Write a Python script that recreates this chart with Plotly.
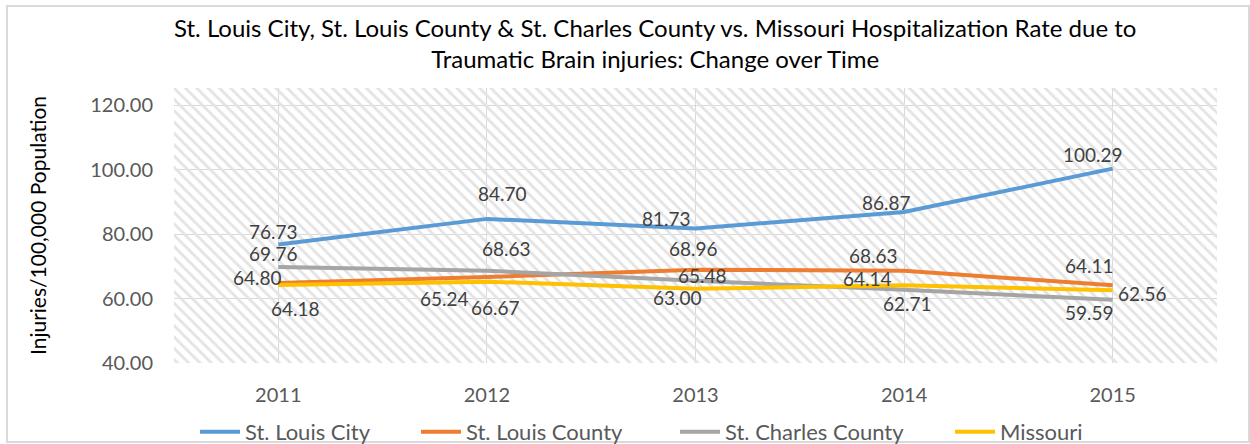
import plotly.graph_objects as go

# ---- data ----
years = ["2011", "2012", "2013", "2014", "2015"]
series_names = ["St. Louis City", "St. Louis County", "St. Charles County", "Missouri"]
stl_city = [76.73, 84.70, 81.73, 86.87, 100.29]
stl_county = [64.80, 66.67, 68.96, 68.63, 64.11]
stc_county = [69.76, 68.63, 65.48, 62.71, 59.59]
missouri = [64.18, 65.24, 63.00, 64.14, 62.56]
y_ticks = [40, 60, 80, 100, 120]

# ---- styles ----
colors = ["#5B9BD5", "#ED7D31", "#A5A5A5", "#FFC000"]
FONT = "Lato"
Y_MIN, Y_MAX = 40, 125.3
L, R, T, B = 174, 33, 88, 81
W, H = 1250, 444
PW, PH = W - L - R, H - T - B
# label pixel offsets (dx, dy up) per series per point
label_offsets = [
    [(-5, 13), (16, 25), (-29, 10), (-18, 9), (-20, 14)],
    [(-21, 6), (9, -30), (-2, 21), (-31, 15), (-23, 20)],
    [(-5, 14), (20, 22), (7, 5), (3, -14), (-23, -13)],
    [(17, -23), (-42, -17), (-18, -9), (-37, 7), (30, -3)],
]
# legend entry left positions (px in the 1250-wide canvas)
legend_left_px = [195, 416, 675, 950]

all_series = [stl_city, stl_county, stc_county, missouri]

fig = go.Figure()

# hatched plot-area background
fig.add_trace(go.Bar(
    x=years, y=[Y_MAX - Y_MIN] * len(years), base=Y_MIN, width=1,
    marker=dict(color="rgba(0,0,0,0)", line=dict(width=0),
                pattern=dict(shape="\\", fgcolor="#e3e3e3", size=8, solidity=0.35, fillmode="replace")),
    showlegend=False, hoverinfo="skip",
))

legend_ids = ["legend", "legend2", "legend3", "legend4"]
for name, vals, col, lid in zip(series_names, all_series, colors, legend_ids):
    fig.add_trace(go.Scatter(
        x=years, y=vals, name=name, mode="lines",
        line=dict(color=col, width=4), legend=lid,
    ))

annotations = []
for vals, offs in zip(all_series, label_offsets):
    for i, (v, (dx, dy)) in enumerate(zip(vals, offs)):
        annotations.append(dict(
            x=i, y=v, xref="x", yref="y", text=f"{v:.2f}", showarrow=False,
            xshift=dx, yshift=dy, font=dict(family=FONT, size=19, color="#404040"),
        ))

# title as annotation (two lines)
TITLE_TOP_PX = 11
annotations.append(dict(
    text="St. Louis City, St. Louis County & St. Charles County vs. Missouri Hospitalization Rate due to<br>Traumatic Brain injuries: Change over Time",
    xref="paper", yref="paper", x=(655 - L) / PW, y=(H - B - TITLE_TOP_PX) / PH,
    xanchor="center", yanchor="top", showarrow=False,
    font=dict(family=FONT, size=24, color="#000000"),
))

legend_common = dict(
    orientation="h", xanchor="left", xref="container",
    y=1 - 432 / H, yanchor="middle", yref="container",
    font=dict(family=FONT, size=22, color="#595959"),
    itemwidth=40, bgcolor="rgba(0,0,0,0)",
)
legends = {lid: dict(legend_common, x=px / W) for lid, px in zip(legend_ids, legend_left_px)}

fig.update_layout(
    width=W, height=H,
    margin=dict(l=L, r=R, t=T, b=B, autoexpand=False),
    paper_bgcolor="white", plot_bgcolor="white",
    bargap=0,
    font=dict(family=FONT),
    xaxis=dict(
        type="category", range=[-0.5, 4.5], showgrid=True, gridcolor="#d9d9d9", gridwidth=1,
        tickfont=dict(family=FONT, size=20, color="#595959"),
        ticklabelstandoff=18, showline=False, zeroline=False, automargin=False,
    ),
    yaxis=dict(
        range=[Y_MIN, Y_MAX], tickvals=y_ticks, ticktext=[f"{t:.2f}" for t in y_ticks],
        showgrid=True, gridcolor="#d9d9d9", gridwidth=1, zeroline=False, automargin=False,
        tickfont=dict(family=FONT, size=20, color="#595959"),
        ticklabelstandoff=20,
        title=dict(text="Injuries/100,000 Population", font=dict(family=FONT, size=21, color="#000000"), standoff=37),
    ),
    annotations=annotations,
    shapes=[dict(type="rect", xref="paper", yref="paper",
                 x0=(7 - L) / PW, x1=(1249 - L) / PW,
                 y0=(H - B - 442) / PH, y1=(H - B - 6) / PH,
                 line=dict(color="#d9d9d9", width=2), fillcolor="rgba(0,0,0,0)", layer="below")],
    **legends,
)

fig.write_html(
    "out.html",
    config={"displayModeBar": False},
    post_script="document.body.style.margin='0';document.body.style.overflow='hidden';",
)
